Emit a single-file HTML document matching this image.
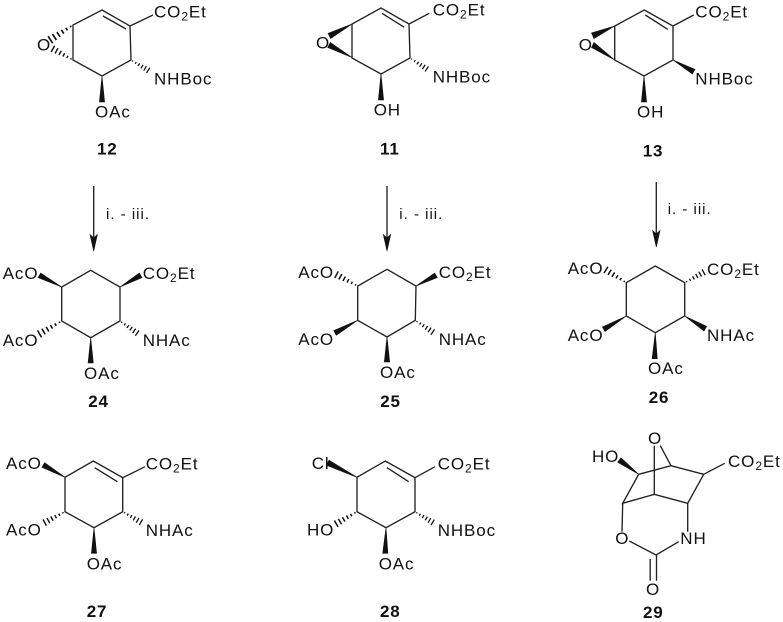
<!DOCTYPE html>
<html><head><meta charset="utf-8"><style>
html,body{margin:0;padding:0;background:#fff}
svg{display:block}
text{font-family:"Liberation Sans",Arial,sans-serif;font-size:17px;letter-spacing:.9px;fill:#111}
.b{font-weight:bold;letter-spacing:.8px}
.r{font-size:15px;letter-spacing:1px}
tspan.s{font-size:12px}
.l{fill:none;stroke:#222;stroke-width:1.35}
</style></head><body>
<svg width="783" height="622" viewBox="0 0 783 622" xmlns="http://www.w3.org/2000/svg">
<defs>
<path id="h" d="M2 -.6V.6M5.6 -1.1V1.1M9.2 -1.6V1.6M12.8 -2.1V2.1M16.4 -2.6V2.6M20 -3.1V3.1" fill="none" stroke="#111" stroke-width="1.25"/>
</defs>
<g class="l">
<!-- 12 -->
<path d="M102 10L130 26L131 60L102 76L73 60L73 25ZM103 16L126 29M130 26L153 15"/>
<!-- 11 -->
<path d="M381 8L409 24L410 58L381 74L352 58L352 24ZM382 13.3L404.3 27.3M409 24L429.3 13.3"/>
<!-- 13 -->
<path d="M644.3 10L673 26L673 60L644 76L614.7 60L614.7 26ZM645.3 15L667.7 29.3M673 26L693.7 15"/>
<!-- 24 -->
<path d="M90.7 270.3L120 287V321L90.7 337.7L61.7 321V287Z"/>
<!-- 25 -->
<path d="M387 269.3L416 286L415.3 320.3L387 337L357.7 320.3V286Z"/>
<!-- 26 -->
<path d="M655.3 266L684.7 282.7V316L655.3 332.7L626.3 316V282.7Z"/>
<!-- 27 -->
<path d="M93.3 461L122.7 477.7V511.7L94 527.7L65 511.7V477.3ZM94.7 467.7L117.3 481.7M122.7 477.7L145 466.7"/>
<!-- 28 -->
<path d="M385.3 461L415 477.7V511.7L386 527.7L357 511.7V477.3ZM387 467.7L408.7 481.7M415 477.7L435 466.7"/>
<!-- 29 -->
<path d="M638.7 474.3L671 465.7L703.7 474.3L687.7 503.3L654.3 494.3L622.7 503.3ZM660.3 445.7L671 465.7M654.3 445.7V494.3M622.7 503.3L622 531.7M629.3 541L656 555L678.7 541.7M687.7 503.3V531.7M656.5 555V580.7M650.2 559V580.7M703.7 474.3L724.7 463.3"/>
<!-- arrows -->
<path d="M93.7 186V240M387 186V240M656.3 182V236"/>
</g>
<g fill="#111" stroke="#111" stroke-width=".6">
<polygon points="93.7,251 90,234.5 93.7,238 97.4,234.5"/>
<polygon points="387,251 383.3,234.5 387,238 390.7,234.5"/>
<polygon points="656.3,247 652.6,230.5 656.3,234 660,230.5"/>
<!-- wedges 12 -->
<polygon points="102,76 99.4,102 104.6,102"/>
<!-- 11 -->
<polygon points="352,24 328,33.4 330.6,38.6"/>
<polygon points="352,57.5 327.7,47.5 330.3,42.5"/>
<polygon points="381,74 378.4,100 383.6,100"/>
<!-- 13 -->
<polygon points="614.7,26 591.5,33 594,38.6"/>
<polygon points="614.7,60 591.5,47.5 594,42.5"/>
<polygon points="644,76 641.4,102 646.6,102"/>
<polygon points="673,60 695,69.4 692.3,74"/>
<!-- 24 -->
<polygon points="120,287 139.3,273 142,277.6"/>
<polygon points="61.7,287 40.7,273 38,277.6"/>
<polygon points="90.7,337.7 88.1,363 93.3,363"/>
<!-- 25 -->
<polygon points="416,286 434.7,273 437.3,277.6"/>
<polygon points="357.7,320.3 333.7,330.7 336.3,335.3"/>
<polygon points="387,337 384.3,362 389.7,362"/>
<!-- 26 -->
<polygon points="684.7,316 706.6,326.4 704,331"/>
<polygon points="626.3,316 602.4,327 605,331.6"/>
<polygon points="655.3,332.7 652.1,358.7 657.3,358.7"/>
<!-- 27 -->
<polygon points="65,477.3 44.6,462.7 42,467.3"/>
<polygon points="94,527.7 91.4,553.3 96.6,553.3"/>
<!-- 28 -->
<polygon points="357,477.3 329,460.2 326.4,465.2"/>
<polygon points="386,527.7 382.7,553.3 387.9,553.3"/>
<!-- 29 -->
<polygon points="638.7,474.3 621,457.8 617.6,462.2"/>
</g>
<!-- hashes -->
<use href="#h" transform="translate(73 25) rotate(147) scale(1.35)"/>
<use href="#h" transform="translate(73 60) rotate(209) scale(1.15)"/>
<use href="#h" transform="translate(131 60) rotate(31)"/>
<use href="#h" transform="translate(410 58) rotate(33)"/>
<use href="#h" transform="translate(120 321) rotate(35) scale(1.05)"/>
<use href="#h" transform="translate(61.7 321) rotate(150) scale(1.28)"/>
<use href="#h" transform="translate(357.7 286) rotate(208) scale(1.2)"/>
<use href="#h" transform="translate(415.3 320.3) rotate(34) scale(1.05)"/>
<use href="#h" transform="translate(684.7 282.7) rotate(-29) scale(1.08)"/>
<use href="#h" transform="translate(626.3 282.7) rotate(212) scale(1.2)"/>
<use href="#h" transform="translate(65 511.7) rotate(152) scale(1.15)"/>
<use href="#h" transform="translate(122.7 511.7) rotate(30) scale(1.05)"/>
<use href="#h" transform="translate(357 511.7) rotate(150) scale(1.2)"/>
<use href="#h" transform="translate(415 511.7) rotate(31) scale(1.03)"/>
<!-- 12 text -->
<text x="154" y="17.5">CO<tspan class="s" dy="3">2</tspan><tspan dy="-3">Et</tspan></text>
<text x="154" y="84.5">NHBoc</text>
<text x="95" y="117.5">OAc</text>
<text x="37" y="50.5">O</text>
<text class="b" x="97" y="154.5">12</text>
<!-- 11 text -->
<text x="432.7" y="15.5">CO<tspan class="s" dy="3">2</tspan><tspan dy="-3">Et</tspan></text>
<text x="432.7" y="82.5">NHBoc</text>
<text x="373.7" y="115.5">OH</text>
<text x="316" y="48.5">O</text>
<text class="b" x="380" y="154.5">11</text>
<!-- 13 text -->
<text x="695.3" y="17.5">CO<tspan class="s" dy="3">2</tspan><tspan dy="-3">Et</tspan></text>
<text x="695.3" y="84.5">NHBoc</text>
<text x="637" y="117.5">OH</text>
<text x="578.7" y="50.5">O</text>
<text class="b" x="642.7" y="156.5">13</text>
<!-- reagents -->
<text class="r" x="106" y="219">i. - iii.</text>
<text class="r" x="399.3" y="219">i. - iii.</text>
<text class="r" x="667.7" y="214">i. - iii.</text>
<!-- 24 text -->
<text x="142.7" y="278.8">CO<tspan class="s" dy="3">2</tspan><tspan dy="-3">Et</tspan></text>
<text x="142.7" y="345.8">NHAc</text>
<text x="84" y="379.2">OAc</text>
<text x="2.7" y="279.2">AcO</text>
<text x="2.7" y="345.8">AcO</text>
<text class="b" x="88.3" y="406.8">24</text>
<!-- 25 text -->
<text x="438.7" y="278.2">CO<tspan class="s" dy="3">2</tspan><tspan dy="-3">Et</tspan></text>
<text x="438.7" y="344.8">NHAc</text>
<text x="380" y="378.2">OAc</text>
<text x="298.3" y="278.2">AcO</text>
<text x="298.3" y="344.8">AcO</text>
<text class="b" x="380.3" y="406.8">25</text>
<!-- 26 text -->
<text x="707" y="274.8">CO<tspan class="s" dy="3">2</tspan><tspan dy="-3">Et</tspan></text>
<text x="707" y="340.8">NHAc</text>
<text x="648" y="374.2">OAc</text>
<text x="567.7" y="274.2">AcO</text>
<text x="567.7" y="340.8">AcO</text>
<text class="b" x="648.7" y="403.2">26</text>
<!-- 27 text -->
<text x="145.7" y="469.5">CO<tspan class="s" dy="3">2</tspan><tspan dy="-3">Et</tspan></text>
<text x="145.7" y="536.2">NHAc</text>
<text x="86.7" y="569.5">OAc</text>
<text x="6" y="468.8">AcO</text>
<text x="6" y="535.5">AcO</text>
<text class="b" x="86.7" y="617">27</text>
<!-- 28 text -->
<text x="437.7" y="469.5">CO<tspan class="s" dy="3">2</tspan><tspan dy="-3">Et</tspan></text>
<text x="437.7" y="536.2">NHBoc</text>
<text x="378.7" y="569.5">OAc</text>
<text x="311.7" y="468.8">Cl</text>
<text x="307" y="535.5">HO</text>
<text class="b" x="380" y="617">28</text>
<!-- 29 text -->
<text x="648" y="443.8">O</text>
<text x="592" y="462.2">HO</text>
<text x="728" y="467.2">CO<tspan class="s" dy="3">2</tspan><tspan dy="-3">Et</tspan></text>
<text x="615.3" y="543.8">O</text>
<text x="680.3" y="543.8">NH</text>
<text x="646" y="594.8">O</text>
<text class="b" x="643" y="618">29</text>
</svg>
</body></html>
